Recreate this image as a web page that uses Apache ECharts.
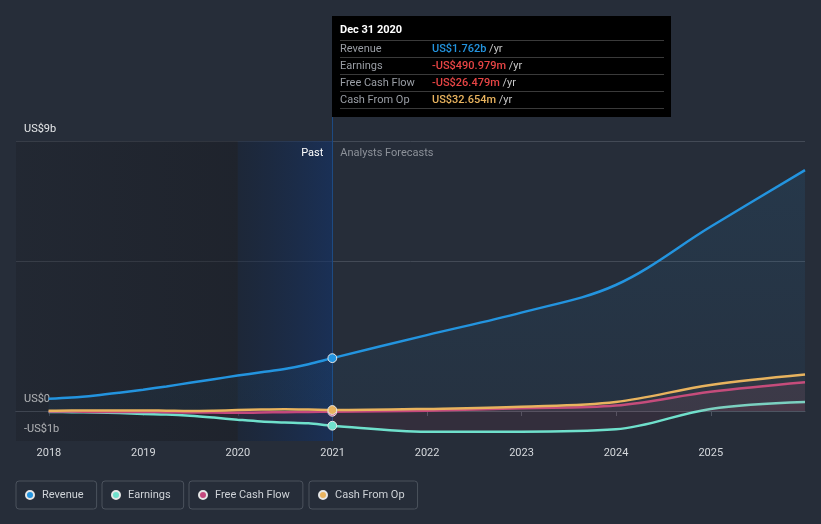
<!DOCTYPE html>
<html>
<head>
<meta charset="utf-8">
<script src="https://cdn.jsdelivr.net/npm/echarts@6/dist/echarts.min.js"></script>
<style>
html,body{margin:0;padding:0;background:#262d39;}
#chart{width:821px;height:524px;}
</style>
</head>
<body>
<div id="chart"></div>
<script>
// ---- data (US$ billions) ----
const dates = ['2017-12-31','2018-03-31','2018-06-30','2018-09-30','2018-12-31','2019-03-31','2019-06-30','2019-09-30','2019-12-31','2020-03-31','2020-06-30','2020-09-30','2020-12-31','2021-12-31','2022-12-31','2023-12-31','2024-12-31','2025-12-31'];
const revenue = [0.41,0.45,0.52,0.61,0.71,0.82,0.94,1.06,1.18,1.29,1.40,1.56,1.762,2.53,3.28,4.20,6.14,8.03];
const earnings = [-0.03,-0.04,-0.05,-0.07,-0.10,-0.12,-0.16,-0.22,-0.29,-0.35,-0.38,-0.41,-0.490979,-0.69,-0.69,-0.61,0.07,0.30];
const freeCashFlow = [-0.02,-0.02,-0.03,-0.03,-0.03,-0.04,-0.05,-0.05,-0.06,-0.05,-0.04,-0.03,-0.026479,0.01,0.09,0.18,0.64,0.96];
const cashFromOp = [0.01,0.02,0.02,0.02,0.02,0.01,0.00,0.01,0.03,0.05,0.06,0.05,0.032654,0.07,0.14,0.30,0.87,1.22];
const seriesNames = ['Revenue','Earnings','Free Cash Flow','Cash From Op'];
const yTickLabels = {'-1':'-US$1b','0':'US$0','9':'US$9b'};
const tooltipIndex = 12;
const tooltipTitle = 'Dec 31 2020';
const pastLabel = 'Past';
const forecastLabel = 'Analysts Forecasts';
const xMin = '2017-08-27';
const xMax = '2025-12-31';
const pastShadeSplit = '2020-01-01';

// ---- styling ----
const FONT = 'Roboto';
const colors = ['#2394df','#6fe0cc','#c4487d','#e8b35e'];
const areaColors = [
  {type:'linear',x:0,y:0,x2:0,y2:1,colorStops:[{offset:0,color:'rgba(35,148,223,0.15)'},{offset:1,color:'rgba(35,148,223,0.07)'}]},
  'rgba(200,60,90,0.12)',
  'rgba(196,74,128,0.14)',
  'rgba(232,179,94,0.06)'
];
const allData = [revenue, earnings, freeCashFlow, cashFromOp];

function fmt(v){
  const a = Math.abs(v);
  const s = a >= 1 ? 'US$' + a.toFixed(3) + 'b' : 'US$' + (a*1000).toFixed(3) + 'm';
  return (v < 0 ? '-' : '') + s;
}

const chart = echarts.init(document.getElementById('chart'), null, {renderer:'canvas'});

const series = seriesNames.map((name, k) => {
  const s = {
    name: name,
    type: 'line',
    data: dates.map((d,i) => [d, allData[k][i]]),
    smooth: 0.35,
    symbol: 'circle',
    showSymbol: true,
    showAllSymbol: true,
    symbolSize: (v, p) => p.dataIndex === tooltipIndex ? 8 : 0,
    itemStyle: {color: colors[k], borderColor: '#e6e6e6', borderWidth: 1},
    lineStyle: {color: colors[k], width: 2.5},
    areaStyle: {color: areaColors[k], origin: 'auto'},
    emphasis: {disabled: true},
    z: 3 + k
  };
  if (k === 0) {
    s.markArea = {
      silent: true,
      z: 1,
      data: [
        [{xAxis: xMin, yAxis: 9, itemStyle: {color: {type:'linear',x:0,y:0,x2:1,y2:0,colorStops:[{offset:0,color:'rgba(22,24,30,0.25)'},{offset:1,color:'rgba(22,24,30,0.45)'}]}}},
         {xAxis: pastShadeSplit, yAxis: -1}],
        [{xAxis: pastShadeSplit, yAxis: 9,
          itemStyle: {color: {type:'linear',x:0,y:0,x2:1,y2:0,colorStops:[{offset:0,color:'rgba(18,32,55,0.45)'},{offset:1,color:'rgba(18,50,105,0.6)'}]}},
          label: {show: true, position: 'insideTopRight', formatter: pastLabel, color: '#ffffff', fontFamily: FONT, fontSize: 11, distance: 6, offset: [-3, 1]}},
         {xAxis: dates[tooltipIndex], yAxis: -1}],
        [{xAxis: dates[tooltipIndex], yAxis: 9, itemStyle: {color: 'rgba(0,0,0,0)'},
          label: {show: true, position: 'insideTopLeft', formatter: forecastLabel, color: '#8c9199', fontFamily: FONT, fontSize: 11, distance: 6, offset: [2, 1]}},
         {xAxis: xMax, yAxis: -1}]
      ]
    };
    s.markLine = {
      silent: true,
      z: 2,
      symbol: 'none',
      label: {show: false},
      lineStyle: {color: '#1d4a82', width: 1, type: 'solid'},
      data: [{xAxis: dates[tooltipIndex]}],
      animation: false
    };
  }
  return s;
});

const splitColors = [];
for (let v = -1; v <= 10; v++) {
  if (v === 0) splitColors.push('#ffffff');
  else if (v === 5 || v === 9) splitColors.push('#434a56');
  else splitColors.push('rgba(0,0,0,0)');
}

const legendLefts = [16, 102, 189, 309];
const legends = seriesNames.map((n, k) => ({
  data: [n],
  left: legendLefts[k],
  top: 481,
  orient: 'horizontal',
  icon: 'circle',
  itemWidth: 14,
  itemHeight: 8,
  itemGap: 0,
  selectedMode: false,
  borderColor: '#4b525d',
  borderWidth: 1,
  borderRadius: 3,
  padding: [7, 13, 7, 9],
  textStyle: {color: '#cfd3d8', fontFamily: FONT, fontSize: 11, lineHeight: 14}
}));

const option = {
  backgroundColor: '#262d39',
  animation: false,
  textStyle: {fontFamily: FONT},
  grid: {left: 16, right: 16, top: 117, bottom: 83, containLabel: false},
  legend: legends,
  tooltip: {
    trigger: 'axis',
    triggerOn: 'none',
    alwaysShowContent: true,
    axisPointer: {type: 'none'},
    transitionDuration: 0,
    padding: 0,
    backgroundColor: '#000000',
    borderWidth: 0,
    borderRadius: 0,
    extraCssText: 'box-shadow:none;border-radius:0;width:339px;',
    position: (point) => [Math.round(point[0]), 16],
    formatter: () => {
      const row = (label, v, col) =>
        '<div style="height:16px;line-height:16px;border-bottom:1px solid #3a3a3a;display:flex;white-space:nowrap;">' +
        '<span style="width:92px;color:#9a9ea5;">' + label + '</span>' +
        '<span style="color:' + col + ';font-weight:500;">' + fmt(v) + '</span>' +
        '<span style="color:#c8c8c8;">&nbsp;/yr</span></div>';
      let h = '<div style="padding:4px 7px 8px 8px;font-family:Roboto;font-size:11px;">';
      h += '<div style="height:20px;line-height:20px;font-weight:bold;color:#ffffff;border-bottom:1px solid #3a3a3a;">' + tooltipTitle + '</div>';
      seriesNames.forEach((n, k) => {
        const v = allData[k][tooltipIndex];
        h += row(n, v, v < 0 ? '#e84545' : colors[k]);
      });
      return h + '</div>';
    }
  },
  xAxis: {
    type: 'time',
    min: xMin,
    max: xMax,
    minInterval: 365 * 24 * 3600 * 1000,
    maxInterval: 366 * 24 * 3600 * 1000,
    axisLine: {show: true, lineStyle: {color: '#4d5562', width: 1}},
    axisTick: {show: true, length: 5, lineStyle: {color: '#4d5562'}},
    splitLine: {show: false},
    axisLabel: {color: '#d5d8dc', fontFamily: FONT, fontSize: 11, margin: 7, formatter: '{yyyy}', hideOverlap: false}
  },
  yAxis: {
    type: 'value',
    min: -1,
    max: 9.8,
    interval: 1,
    axisLine: {show: false},
    axisTick: {show: false},
    splitLine: {show: true, lineStyle: {color: splitColors, width: 1}},
    axisLabel: {
      inside: true,
      margin: 8,
      color: '#e6e8ea',
      fontFamily: FONT,
      fontSize: 11,
      verticalAlign: 'bottom',
      lineHeight: 13,
      padding: [0, 0, 5, 0],
      formatter: (v) => yTickLabels[String(v)] || ''
    }
  },
  series: series
};

chart.setOption(option);
chart.dispatchAction({type: 'showTip', seriesIndex: 0, dataIndex: tooltipIndex});
</script>
</body>
</html>
